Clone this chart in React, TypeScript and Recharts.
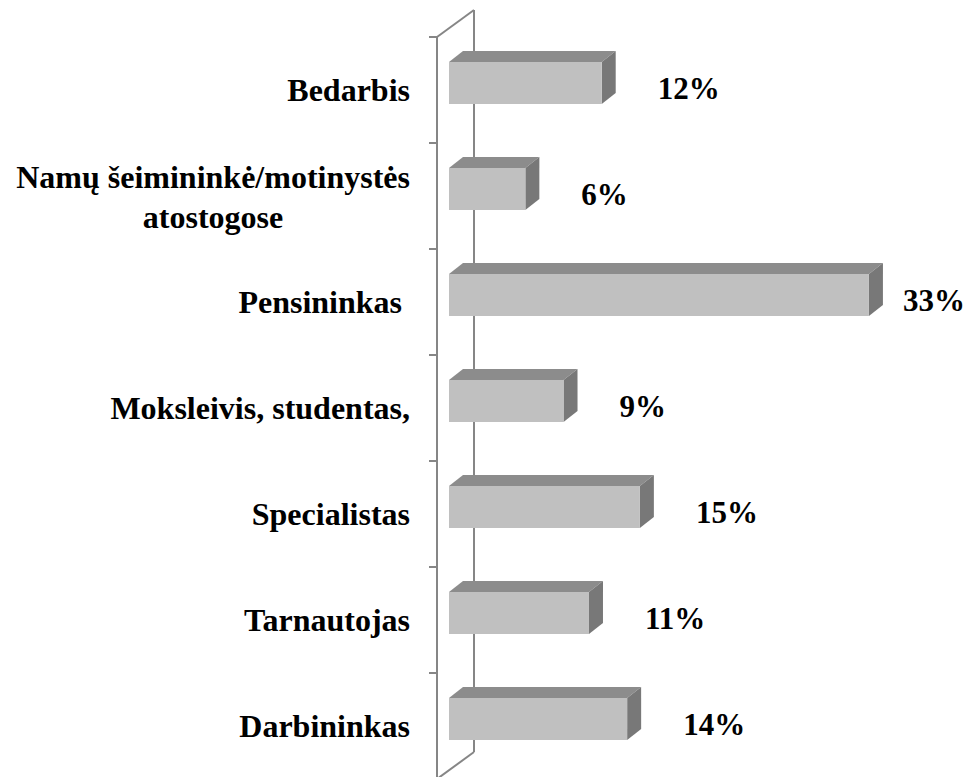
import React from "react";
import { BarChart, Bar, XAxis, YAxis, LabelList, Customized } from "recharts";

const categories = [
  "Bedarbis",
  "Namų šeimininkė/motinystės\natostogose",
  "Pensininkas ",
  "Moksleivis, studentas,",
  "Specialistas",
  "Tarnautojas",
  "Darbininkas",
];
const shares = [12, 6, 33, 9, 15, 11, 14];

const data = categories.map((name, i) => ({ name, value: shares[i] }));

const W = 971;
const H = 779;
const TOP = 37;
const LEFT = 449;
const RIGHT = 13;
const FONT = "'Liberation Serif', 'Times New Roman', serif";
const FRAME = "#868686";

// 3d bar: front face + top + right side
const Bar3D = (props: any) => {
  const { x, y, width, height } = props;
  const d = 14;
  const dy = 11;
  const t = y - 7;
  return (
    <g>
      <polygon
        points={`${x},${t} ${x + d},${t - dy} ${x + width + d},${t - dy} ${x + width},${t}`}
        fill="#8C8C8C"
      />
      <polygon
        points={`${x + width},${t} ${x + width + d},${t - dy} ${x + width + d},${t + height - dy} ${x + width},${t + height}`}
        fill="#787878"
      />
      <rect x={x} y={t} width={width} height={height} fill="#C0C0C0" />
    </g>
  );
};

const Frame = () => {
  const n = categories.length;
  const band = (H - TOP) / n;
  const fx = 437;
  const bx = 474;
  const ticks = [];
  for (let i = 0; i <= n; i++) {
    const ty = TOP + i * band;
    ticks.push(<line key={i} x1={429} x2={fx} y1={ty} y2={ty} stroke={FRAME} strokeWidth={2} />);
  }
  return (
    <g>
      <line x1={bx} x2={bx} y1={10} y2={H - 27} stroke={FRAME} strokeWidth={2} />
      <line x1={fx} x2={fx} y1={TOP} y2={H} stroke={FRAME} strokeWidth={2} />
      <line x1={fx} x2={bx} y1={TOP} y2={10} stroke={FRAME} strokeWidth={2} />
      <line x1={fx} x2={bx} y1={H} y2={H - 27} stroke={FRAME} strokeWidth={2} />
      {ticks}
    </g>
  );
};

const CategoryTick = (props: any) => {
  const { y, payload } = props;
  const lines = String(payload.value).split("\n");
  const txt = { fontFamily: FONT, fontWeight: "bold", fontSize: 32, fill: "#000" } as const;
  if (lines.length === 1) {
    return (
      <text x={410} y={y} textAnchor="end" dominantBaseline="central" style={{ whiteSpace: "pre" }} {...txt}>
        {lines[0]}
      </text>
    );
  }
  // wrapped label: second line centred under the first
  return (
    <g>
      <text x={410} y={y - 19} textAnchor="end" dominantBaseline="central" {...txt}>
        {lines[0]}
      </text>
      <text x={213} y={y + 21} textAnchor="middle" dominantBaseline="central" {...txt}>
        {lines[1]}
      </text>
    </g>
  );
};

const ValueLabel = (props: any) => {
  const { x, y, width, height, value } = props;
  const lx = Math.min(x + width + 56, 903);
  return (
    <text x={lx} y={y + height / 2 - 2} dominantBaseline="central" fontFamily={FONT} fontWeight="bold" fontSize={31} fill="#000">
      {value}%
    </text>
  );
};

export default function App() {
  return (
    <div style={{ position: "absolute", left: 0, top: 0, width: W, height: 777, overflow: "hidden", background: "#fff" }}>
      <BarChart
        width={W}
        height={H}
        data={data}
        layout="vertical"
        margin={{ top: TOP, right: RIGHT, left: 0, bottom: 0 }}
        barSize={42}
      >
        <Customized component={Frame} />
        <XAxis type="number" domain={[0, 40]} hide />
        <YAxis
          type="category"
          dataKey="name"
          width={LEFT}
          axisLine={false}
          tickLine={false}
          tick={<CategoryTick />}
          interval={0}
        />
        <Bar dataKey="value" shape={<Bar3D />} isAnimationActive={false}>
          <LabelList dataKey="value" content={<ValueLabel />} />
        </Bar>
      </BarChart>
    </div>
  );
}
